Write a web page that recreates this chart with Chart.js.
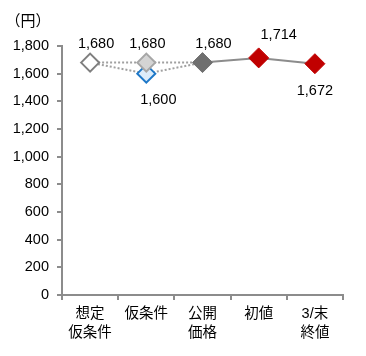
<!DOCTYPE html>
<html><head><meta charset="utf-8">
<script src="https://cdn.jsdelivr.net/npm/chart.js@4/dist/chart.umd.min.js"></script>
<style>html,body{margin:0;padding:0;background:#fff}</style>
</head><body>
<canvas id="c" width="366" height="356"></canvas>
<script>
const categories = [['想定','仮条件'], ['仮条件'], ['公開','価格'], ['初値'], ['3/末','終値']];
const upperPath = [1680, 1680, 1680, null, null];
const lowerPath = [1680, 1600, 1680, null, null];
const actualPath = [null, null, 1680, 1714, 1672];
const yTicks = [0, 200, 400, 600, 800, 1000, 1200, 1400, 1600, 1800];
const unitLabel = '（円）';

const FONT = "'Liberation Sans', Arial, 'Noto Sans CJK JP', sans-serif";

// label placement (style): dataset index, point index, dx, dy
const labelSpots = [
  {ds:0, i:0, dx:6, dy:-19},
  {ds:0, i:1, dx:1, dy:-19},
  {ds:2, i:2, dx:11, dy:-19},
  {ds:1, i:1, dx:12, dy:26},
  {ds:2, i:3, dx:20, dy:-23},
  {ds:2, i:4, dx:0, dy:27},
];

const labelPlugin = {
  id: 'labels',
  afterDatasetsDraw(chart) {
    const ctx = chart.ctx;
    ctx.save();
    ctx.font = '14.5px ' + FONT;
    ctx.fillStyle = '#000';
    ctx.textAlign = 'center';
    ctx.textBaseline = 'middle';
    labelSpots.forEach(s => {
      const el = chart.getDatasetMeta(s.ds).data[s.i];
      const v = chart.data.datasets[s.ds].data[s.i];
      ctx.fillText(v.toLocaleString('en-US'), el.x + s.dx, el.y + s.dy);
    });
    ctx.font = "15px 'Noto Sans CJK JP', sans-serif";
    ctx.fillText(unitLabel, 28, 20);
    ctx.restore();
  }
};

new Chart(document.getElementById('c'), {
  type: 'line',
  data: {
    labels: categories,
    datasets: [
      {
        data: upperPath, order: 2,
        borderColor: '#a0a0a0', borderWidth: 2, borderDash: [2, 2],
        pointStyle: 'rectRot',
        pointRadius: [9, 9, 0, 0, 0],
        pointBackgroundColor: ['#ffffff', '#d4d4d4', '#fff', '#fff', '#fff'],
        pointBorderColor: ['#7f7f7f', '#a6a6a6', '#fff', '#fff', '#fff'],
        pointBorderWidth: 2
      },
      {
        data: lowerPath, order: 3,
        borderColor: '#a0a0a0', borderWidth: 2, borderDash: [2, 2],
        pointStyle: 'rectRot',
        pointRadius: [0, 9, 0, 0, 0],
        pointBackgroundColor: '#dcecfa',
        pointBorderColor: '#1e78c8',
        pointBorderWidth: 2
      },
      {
        data: actualPath, order: 1,
        borderColor: '#8c8c8c', borderWidth: 2,
        pointStyle: 'rectRot',
        pointRadius: 10,
        pointBackgroundColor: ['#6f6f6f', '#6f6f6f', '#6f6f6f', '#c00000', '#c00000'],
        pointBorderColor: ['#6f6f6f', '#6f6f6f', '#6f6f6f', '#c00000', '#c00000'],
        pointBorderWidth: 1
      }
    ]
  },
  options: {
    responsive: false, animation: false,
    spanGaps: false,
    layout: {padding: {top: 46, right: 23, left: 0, bottom: 0}},
    plugins: {legend: {display: false}, tooltip: {enabled: false}},
    scales: {
      x: {
        offset: true,
        border: {color: '#8c8c8c', width: 2},
        grid: {drawOnChartArea: false, color: '#8c8c8c', lineWidth: 2, tickLength: 5, offset: true},
        ticks: {color: '#000', font: {family: FONT, size: 14.5, lineHeight: 1.35}, padding: 4, maxRotation: 0, autoSkip: false},
        afterFit(s) { s.height = 61; }
      },
      y: {
        min: 0, max: 1800,
        border: {color: '#8c8c8c', width: 2},
        grid: {drawOnChartArea: false, color: '#8c8c8c', lineWidth: 2, tickLength: 5},
        afterBuildTicks(s) { s.ticks = yTicks.map(v => ({value: v})); },
        ticks: {color: '#000', font: {family: FONT, size: 14.5}, padding: 8,
          callback: v => v.toLocaleString('en-US')},
        afterFit(s) { s.width = 62; }
      }
    }
  },
  plugins: [labelPlugin]
});
</script>
</body></html>
